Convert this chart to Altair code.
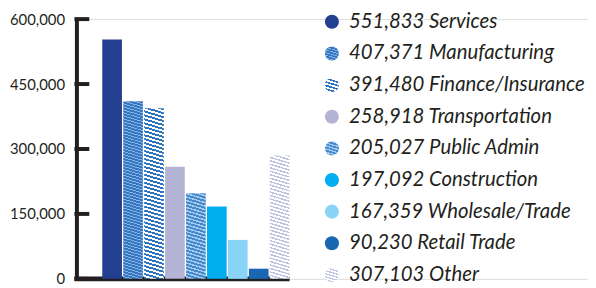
import altair as alt
import pandas as pd

# ---- data ----
labels = ["Services", "Manufacturing", "Finance/Insurance", "Transportation",
          "Public Admin", "Construction", "Wholesale/Trade", "Retail Trade", "Other"]
legend_values = [551833, 407371, 391480, 258918, 205027, 197092, 167359, 90230, 307103]
bar_values = [553000, 410000, 394000, 259000, 198000, 167000, 90000, 23500, 285000]
tick_values = [0, 150000, 300000, 450000, 600000]

# ---- styles ----
INK = "#231f20"
FONT = "Lato"
PLOT_W, PLOT_H = 516, 262
Y_MAX = 600000
# (colour1, colour2, width1, width2) for striped fills, or a plain colour
styles = [
    "#233f8f",
    ("#3577c0", "#86b3e4", 2.0, 1.0),
    ("#2e73bf", "#ffffff", 2.0, 2.0),
    "#b4b4d6",
    ("#4589cd", "#a6cbee", 2.0, 1.5),
    "#00aeef",
    "#89d4f6",
    "#1a66b2",
    ("#c0c2e3", "#ffffff", 1.5, 2.0),
]
SLOPE = 0.3


def stripe_fill(style, w_px, h_px):
    if isinstance(style, str):
        return style
    c1, c2, w1, w2 = style
    h_px = max(h_px, 1.0)
    a = SLOPE * w_px / h_px
    k = (a + 1) / (a * a + 1)
    total = h_px * (a + 1)
    stops = []
    pos = 0.0
    while pos < total:
        o1 = pos / total
        o2 = min((pos + w1) / total, 1.0)
        o3 = min((pos + w1 + w2) / total, 1.0)
        stops += [{"offset": o1, "color": c1}, {"offset": o2, "color": c1},
                  {"offset": o2, "color": c2}, {"offset": o3, "color": c2}]
        pos += w1 + w2
    return {"gradient": "linear", "x1": 1, "y1": 0, "x2": 1 - a * k, "y2": k,
            "stops": stops}


n = len(labels)
df = pd.DataFrame({
    "idx": list(range(n)),
    "label": labels,
    "text": [f"{v:,} {l}" for v, l in zip(legend_values, labels)],
    "value": bar_values,
})
df["x0"] = df["idx"] - 0.47
df["x1"] = df["idx"] + 0.47
df["zero"] = 0

step = 21.125
d0 = -36.0 / step
xscale = alt.Scale(domain=[d0, d0 + PLOT_W / step], nice=False, zero=False)
yscale = alt.Scale(domain=[0, Y_MAX], nice=False)
rowscale = alt.Scale(domain=[0, n - 1], range=[2.7, 258], nice=False, zero=False)

base = alt.Chart(df)

layers = []

# baseline
layers.append(
    alt.Chart(pd.DataFrame({"v": [0]})).mark_rule(strokeWidth=5, color=INK).encode(
        y=alt.Y("v:Q", scale=yscale, axis=None),
        x=alt.value(-2), x2=alt.value(215)))

# axis with inward ticks
layers.append(
    alt.Chart(pd.DataFrame({"tick": tick_values})).mark_rule(strokeWidth=4, color=INK).encode(
        y=alt.Y("tick:Q", scale=yscale,
                axis=alt.Axis(values=tick_values, labelExpr="format(datum.value, ',')",
                              tickSize=0, grid=False,
                              domain=True, domainWidth=4, domainColor=INK, title=None,
                              labelFont=FONT, labelFontSize=15, labelColor=INK,
                              labelPadding=12)),
        x=alt.value(-2), x2=alt.value(13)))

bar_w_px = 0.94 * step
for i in range(n):
    h_px = bar_values[i] * PLOT_H / Y_MAX
    layers.append(
        base.transform_filter(alt.datum.idx == i)
        .mark_bar(fill=stripe_fill(styles[i], bar_w_px, h_px), strokeWidth=0)
        .encode(x=alt.X("x0:Q", scale=xscale, axis=None), x2="x1:Q",
                y=alt.Y("value:Q", scale=yscale, axis=None), y2="zero:Q"))

for i in range(n):
    layers.append(
        base.transform_filter(alt.datum.idx == i)
        .mark_point(filled=True, shape="circle", size=201, opacity=1, strokeWidth=0,
                    fill=stripe_fill(styles[i], 16, 16))
        .encode(x=alt.value(257.7), y=alt.Y("idx:Q", scale=rowscale, axis=None)))

layers.append(
    base.mark_text(align="left", baseline="middle", font=FONT, fontStyle="italic",
                   fontSize=20.5, color=INK)
    .encode(x=alt.value(275), y=alt.Y("idx:Q", scale=rowscale, axis=None),
            text="text:N"))

chart = alt.layer(*layers).resolve_scale(y="independent").properties(
    width=PLOT_W, height=PLOT_H,
    autosize=alt.AutoSizeParams(type="none"),
    padding={"left": 69, "top": 10, "right": 0, "bottom": 8},
).configure_view(stroke=None).configure(background="white")

chart.save("out.html", embed_options={"renderer": "svg", "actions": False})
